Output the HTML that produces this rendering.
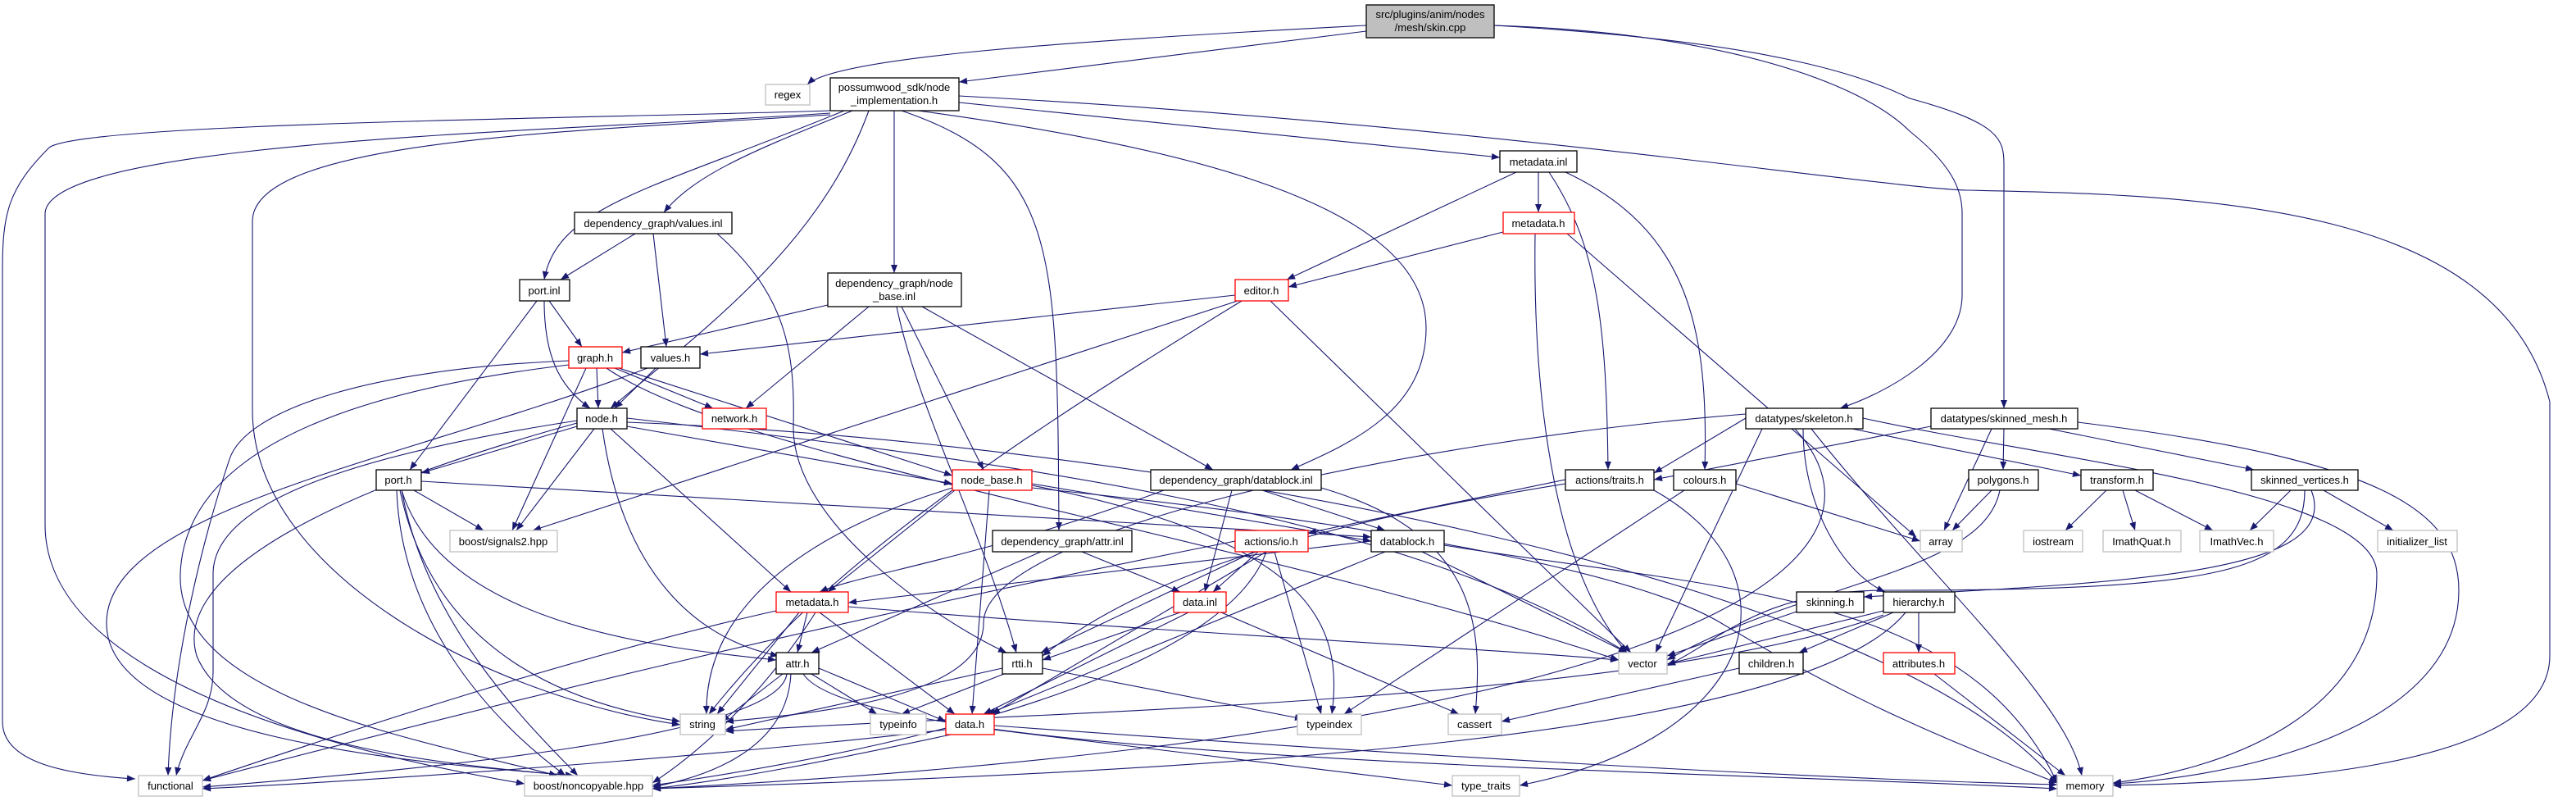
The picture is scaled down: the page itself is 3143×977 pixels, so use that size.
<!DOCTYPE html>
<html><head><meta charset="utf-8"><style>
html,body{margin:0;padding:0;background:#fff}
svg{display:block}
text{font-family:"Liberation Sans",sans-serif;font-size:13px;text-anchor:middle;fill:#000}
.e{fill:none;stroke:#191970;stroke-width:1.1}
.n{fill:#fff;stroke:#000;stroke-width:1.3}
.r{fill:#fff;stroke:#f00;stroke-width:1.3}
.g{fill:#fff;stroke:#bfbfbf;stroke-width:1.3}
</style></head><body>
<svg width="3143" height="977" viewBox="0 0 3143 977" xmlns="http://www.w3.org/2000/svg">
<defs><marker id="a" viewBox="0 0 10 10" refX="10" refY="5" markerWidth="12" markerHeight="10" markerUnits="userSpaceOnUse" orient="auto"><path d="M0,1 L10,5 L0,9z" fill="#191970"/></marker></defs>
<g class="e" marker-end="url(#a)">
<path d="M1667,31 C1300,50 1020,70 985,103"/>
<path d="M1667,38 L1170,100"/>
<path d="M1823,31 C2100,40 2270,100 2330,160 C2380,200 2394,230 2394,260 L2394,360 C2394,430 2300,480 2245,498"/>
<path d="M1823,31 C2150,50 2270,90 2330,120 C2440,150 2445,170 2445,200 L2445,498"/>
<path d="M1013,135 C700,145 100,150 60,180 C10,230 3,260 3,330 L3,880 C3,930 80,945 165,950"/>
<path d="M1013,138 C700,160 60,170 55,260 L55,640 C55,760 200,880 640,956"/>
<path d="M1013,140 C700,160 308,170 308,270 L308,500 C308,700 600,850 830,884"/>
<path d="M1170,117 C1800,150 2300,230 2400,232 C2700,238 3050,250 3111,490 L3111,800 C3111,950 2700,955 2578,958"/>
<path d="M1030,135 C800,230 680,250 664,341"/>
<path d="M1040,135 C930,180 850,210 810,259"/>
<path d="M1060,135 C1000,300 860,400 745,498"/>
<path d="M1091,135 L1091,333"/>
<path d="M1100,135 C1290,200 1290,300 1292,647"/>
<path d="M1120,135 C1450,180 1740,250 1740,400 C1740,500 1650,540 1575,573"/>
<path d="M1170,125 L1830,192"/>
<path d="M1850,210 L1570,341"/>
<path d="M1877,210 L1877,259"/>
<path d="M1890,210 C1950,300 1960,400 1962,573"/>
<path d="M1910,210 C2060,280 2085,400 2080,573"/>
<path d="M1834,283 L1572,350"/>
<path d="M1873,285 C1870,500 1900,700 1985,796"/>
<path d="M1912,285 L2338,655"/>
<path d="M1507,360 L854,432"/>
<path d="M1510,367 L650,647"/>
<path d="M1515,367 C1200,560 1000,700 865,871"/>
<path d="M1550,367 L1990,796"/>
<path d="M775,285 L684,341"/>
<path d="M797,285 L813,423"/>
<path d="M875,285 C960,360 970,430 968,520 C966,640 1150,760 1228,796"/>
<path d="M670,367 L710,423"/>
<path d="M664,367 C664,430 680,470 720,498"/>
<path d="M655,367 L500,573"/>
<path d="M1010,372 L759,430"/>
<path d="M1060,374 L910,498"/>
<path d="M1100,374 L1200,573"/>
<path d="M1125,374 L1480,573"/>
<path d="M1094,374 C1120,500 1200,650 1240,796"/>
<path d="M728,449 L730,498"/>
<path d="M750,449 L870,498"/>
<path d="M715,449 L625,647"/>
<path d="M694,440 C450,450 300,500 280,560 C250,650 210,800 205,946"/>
<path d="M694,445 C400,480 225,560 220,700 C215,850 500,900 680,946"/>
<path d="M755,449 L1162,580"/>
<path d="M740,449 C900,560 1500,650 1975,805"/>
<path d="M800,449 L750,498"/>
<path d="M790,449 C500,560 130,620 130,760 C130,900 500,930 700,946"/>
<path d="M704,520 L514,577"/>
<path d="M725,523 L630,647"/>
<path d="M745,523 L965,722"/>
<path d="M735,523 C760,700 850,780 950,800"/>
<path d="M704,513 C400,560 260,620 260,700 L260,820 C260,870 225,900 215,946"/>
<path d="M704,516 C400,600 210,700 240,800 C280,900 500,930 700,946"/>
<path d="M765,520 L1162,590"/>
<path d="M765,510 C1200,560 1700,620 1985,796"/>
<path d="M765,515 C1400,540 2300,700 2510,955"/>
<path d="M505,598 L590,647"/>
<path d="M490,598 C540,760 800,790 947,805"/>
<path d="M488,598 C530,800 700,860 830,880"/>
<path d="M484,598 C490,760 600,880 690,946"/>
<path d="M490,598 C520,760 640,880 705,946"/>
<path d="M514,587 L1673,655"/>
<path d="M1165,598 L1010,722"/>
<path d="M1207,598 L1186,871"/>
<path d="M1259,592 C1600,660 1640,760 1625,871"/>
<path d="M1259,590 L1673,660"/>
<path d="M1259,595 C1700,640 2000,700 2100,760 C2300,880 2450,930 2510,955"/>
<path d="M1162,595 C950,660 860,760 862,871"/>
<path d="M1503,598 L1470,722"/>
<path d="M1540,598 L1690,647"/>
<path d="M1612,595 C1800,650 1810,760 1800,871"/>
<path d="M1420,598 C1200,680 1050,700 1000,722"/>
<path d="M1320,673 L1440,722"/>
<path d="M1270,673 L990,796"/>
<path d="M1535,673 L1480,722"/>
<path d="M1530,673 L1270,796"/>
<path d="M1545,673 L1210,871"/>
<path d="M1555,673 L1612,871"/>
<path d="M1507,660 C1000,760 600,860 247,952"/>
<path d="M1545,673 C1500,800 1200,900 796,958"/>
<path d="M1673,660 L1035,735"/>
<path d="M1690,673 L1205,871"/>
<path d="M1735,673 L1985,796"/>
<path d="M1762,665 C2100,720 2400,720 2510,955"/>
<path d="M1910,585 L1596,650"/>
<path d="M1910,590 C1600,640 1400,700 1272,800"/>
<path d="M2018,598 C2200,700 2150,900 1854,958"/>
<path d="M2055,598 L1640,871"/>
<path d="M2118,590 L2343,660"/>
<path d="M985,747 L973,796"/>
<path d="M1000,747 L1165,871"/>
<path d="M975,747 L875,871"/>
<path d="M947,745 C700,800 400,900 247,952"/>
<path d="M1035,740 C1400,770 1800,790 1975,805"/>
<path d="M995,747 C930,850 850,920 796,955"/>
<path d="M1450,747 L1200,871"/>
<path d="M1440,747 L1272,805"/>
<path d="M1490,747 L1780,871"/>
<path d="M955,822 L880,880"/>
<path d="M990,822 L1070,871"/>
<path d="M999,815 L1154,880"/>
<path d="M960,822 C950,900 500,940 247,960"/>
<path d="M965,822 C960,920 850,950 796,960"/>
<path d="M980,822 C1050,930 2100,940 2510,962"/>
<path d="M1223,815 L885,890"/>
<path d="M1272,815 L1590,877"/>
<path d="M1225,822 L1100,871"/>
<path d="M1154,890 C900,920 500,950 247,962"/>
<path d="M1160,896 C1000,930 900,950 796,962"/>
<path d="M1213,885 C1700,920 2200,950 2510,957"/>
<path d="M1213,890 L1772,958"/>
<path d="M2130,510 L2018,577"/>
<path d="M2150,523 L2020,796"/>
<path d="M2200,523 C2200,620 2250,700 2300,722"/>
<path d="M2130,505 C1700,540 1200,650 1200,760 C1200,850 1000,870 885,880"/>
<path d="M2190,523 C2350,700 2000,900 796,962"/>
<path d="M2210,523 C2350,700 2520,850 2540,946"/>
<path d="M2260,523 L2539,580"/>
<path d="M2273,510 C2500,560 2900,600 2900,700 C2900,880 2700,940 2578,955"/>
<path d="M2356,520 L2018,585"/>
<path d="M2445,523 L2444,573"/>
<path d="M2430,523 L2372,647"/>
<path d="M2500,523 L2750,573"/>
<path d="M2535,515 C2900,560 3000,620 3000,720 C3000,900 2700,950 2578,956"/>
<path d="M2430,598 L2382,647"/>
<path d="M2440,598 C2420,700 2200,710 2034,805"/>
<path d="M2570,598 L2520,647"/>
<path d="M2590,598 L2605,647"/>
<path d="M2605,598 L2700,647"/>
<path d="M2795,598 L2745,647"/>
<path d="M2835,598 L2920,647"/>
<path d="M2812,598 C2812,700 2700,720 2300,720 C2150,720 2100,780 2034,812"/>
<path d="M2820,598 C2860,700 2600,710 2274,728"/>
<path d="M2195,745 L2034,800"/>
<path d="M2298,745 L2034,810"/>
<path d="M2298,750 C2000,860 1200,870 885,892"/>
<path d="M2310,747 L2195,796"/>
<path d="M2341,747 L2341,796"/>
<path d="M2325,747 C2200,900 1500,940 796,962"/>
<path d="M2122,815 L1832,880"/>
<path d="M2360,822 L2520,946"/>
</g>
<g>
<rect x="1667" y="6" width="156" height="40" fill="#bfbfbf" stroke="#000" stroke-width="1.3"/><text x="1745" y="22">src/plugins/anim/nodes</text><text x="1745" y="38">/mesh/skin.cpp</text>
<rect class="g" x="934" y="103" width="54" height="25"/><text x="961" y="120">regex</text>
<rect class="n" x="1013" y="95" width="157" height="40"/><text x="1091" y="111">possumwood_sdk/node</text><text x="1091" y="127">_implementation.h</text>
<rect class="n" x="1830" y="184" width="94" height="26"/><text x="1877" y="202">metadata.inl</text>
<rect class="n" x="701" y="259" width="192" height="26"/><text x="797" y="277">dependency_graph/values.inl</text>
<rect class="r" x="1834" y="259" width="87" height="26"/><text x="1877" y="277">metadata.h</text>
<rect class="n" x="634" y="341" width="61" height="26"/><text x="664" y="359">port.inl</text>
<rect class="n" x="1010" y="333" width="163" height="41"/><text x="1091" y="350">dependency_graph/node</text><text x="1091" y="366">_base.inl</text>
<rect class="r" x="1507" y="341" width="65" height="26"/><text x="1539" y="359">editor.h</text>
<rect class="r" x="694" y="423" width="65" height="26"/><text x="726" y="441">graph.h</text>
<rect class="n" x="782" y="423" width="72" height="26"/><text x="818" y="441">values.h</text>
<rect class="n" x="704" y="498" width="61" height="25"/><text x="734" y="515">node.h</text>
<rect class="r" x="857" y="498" width="78" height="25"/><text x="896" y="515">network.h</text>
<rect class="n" x="2130" y="498" width="143" height="25"/><text x="2201" y="515">datatypes/skeleton.h</text>
<rect class="n" x="2356" y="498" width="179" height="25"/><text x="2445" y="515">datatypes/skinned_mesh.h</text>
<rect class="n" x="459" y="573" width="55" height="25"/><text x="486" y="590">port.h</text>
<rect class="r" x="1162" y="573" width="97" height="25"/><text x="1210" y="590">node_base.h</text>
<rect class="n" x="1404" y="573" width="208" height="25"/><text x="1508" y="590">dependency_graph/datablock.inl</text>
<rect class="n" x="1910" y="573" width="108" height="25"/><text x="1964" y="590">actions/traits.h</text>
<rect class="n" x="2042" y="573" width="76" height="25"/><text x="2080" y="590">colours.h</text>
<rect class="n" x="2402" y="573" width="85" height="25"/><text x="2444" y="590">polygons.h</text>
<rect class="n" x="2539" y="573" width="88" height="25"/><text x="2583" y="590">transform.h</text>
<rect class="n" x="2747" y="573" width="130" height="25"/><text x="2812" y="590">skinned_vertices.h</text>
<rect class="g" x="549" y="647" width="131" height="26"/><text x="614" y="665">boost/signals2.hpp</text>
<rect class="n" x="1211" y="647" width="170" height="26"/><text x="1296" y="665">dependency_graph/attr.inl</text>
<rect class="r" x="1507" y="647" width="89" height="26"/><text x="1551" y="665">actions/io.h</text>
<rect class="n" x="1673" y="647" width="89" height="26"/><text x="1717" y="665">datablock.h</text>
<rect class="g" x="2343" y="647" width="51" height="26"/><text x="2368" y="665">array</text>
<rect class="g" x="2469" y="647" width="72" height="26"/><text x="2505" y="665">iostream</text>
<rect class="g" x="2566" y="647" width="95" height="26"/><text x="2613" y="665">ImathQuat.h</text>
<rect class="g" x="2684" y="647" width="90" height="26"/><text x="2729" y="665">ImathVec.h</text>
<rect class="g" x="2901" y="647" width="97" height="26"/><text x="2949" y="665">initializer_list</text>
<rect class="r" x="947" y="722" width="88" height="25"/><text x="991" y="739">metadata.h</text>
<rect class="r" x="1432" y="722" width="64" height="25"/><text x="1464" y="739">data.inl</text>
<rect class="n" x="2192" y="722" width="82" height="25"/><text x="2233" y="739">skinning.h</text>
<rect class="n" x="2298" y="722" width="87" height="25"/><text x="2341" y="739">hierarchy.h</text>
<rect class="n" x="947" y="796" width="52" height="26"/><text x="973" y="814">attr.h</text>
<rect class="n" x="1223" y="796" width="49" height="26"/><text x="1247" y="814">rtti.h</text>
<rect class="g" x="1975" y="796" width="59" height="26"/><text x="2004" y="814">vector</text>
<rect class="n" x="2122" y="796" width="78" height="26"/><text x="2161" y="814">children.h</text>
<rect class="r" x="2298" y="796" width="87" height="26"/><text x="2341" y="814">attributes.h</text>
<rect class="g" x="830" y="871" width="55" height="25"/><text x="857" y="888">string</text>
<rect class="g" x="1062" y="871" width="68" height="25"/><text x="1096" y="888">typeinfo</text>
<rect class="r" x="1154" y="871" width="59" height="25"/><text x="1183" y="888">data.h</text>
<rect class="g" x="1583" y="871" width="78" height="25"/><text x="1622" y="888">typeindex</text>
<rect class="g" x="1767" y="871" width="65" height="25"/><text x="1799" y="888">cassert</text>
<rect class="g" x="169" y="946" width="78" height="25"/><text x="208" y="963">functional</text>
<rect class="g" x="640" y="946" width="156" height="25"/><text x="718" y="963">boost/noncopyable.hpp</text>
<rect class="g" x="1772" y="946" width="82" height="25"/><text x="1813" y="963">type_traits</text>
<rect class="g" x="2510" y="946" width="68" height="25"/><text x="2544" y="963">memory</text>
</g>
</svg>
</body></html>
